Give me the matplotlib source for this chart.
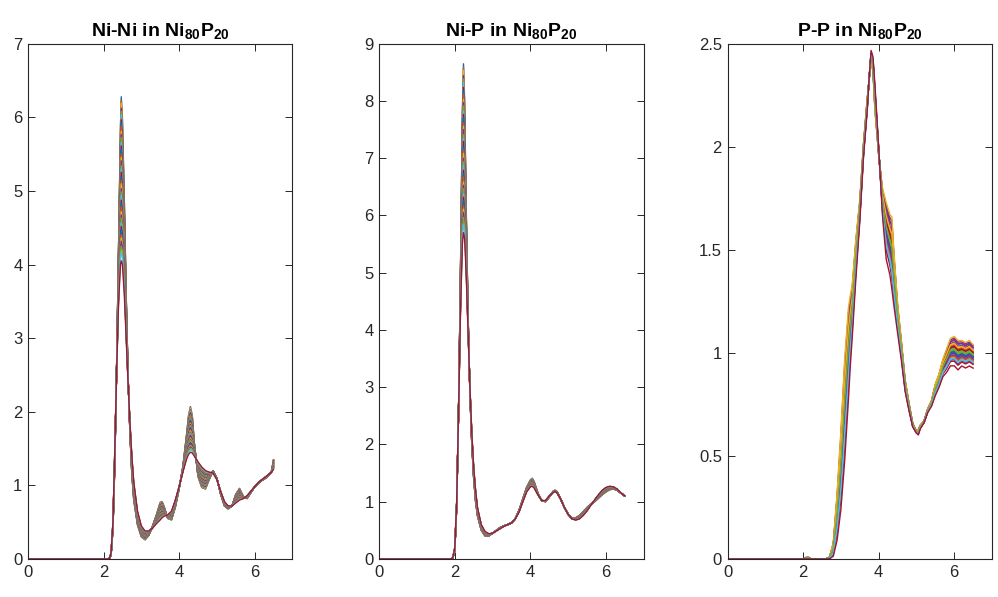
import matplotlib
matplotlib.use("Agg")
import matplotlib.pyplot as plt
import numpy as np

plt.rcParams['font.family'] = ['Liberation Sans', 'DejaVu Sans']
plt.rcParams['mathtext.fontset'] = 'custom'
plt.rcParams['mathtext.rm'] = 'Liberation Sans'
plt.rcParams['mathtext.bf'] = 'Liberation Sans:bold'

# MATLAB default colour order
colors = ['#0072BD', '#D95319', '#EDB120', '#7E2F8E', '#77AC30', '#4DBEEE', '#A2142F']

# ---- Ni-Ni: sharpest (cold) and broadest (hot) curves
r_nini = [0, 2.10, 2.15, 2.20, 2.25, 2.30, 2.35, 2.40, 2.45, 2.47, 2.50, 2.55, 2.60,
          2.65, 2.70, 2.75, 2.80, 2.90, 3.00, 3.10, 3.20, 3.30, 3.40, 3.50, 3.55,
          3.60, 3.70, 3.80, 3.90, 4.00, 4.10, 4.20, 4.25, 4.30, 4.35, 4.40, 4.50,
          4.60, 4.70, 4.80, 4.90, 5.00, 5.10, 5.20, 5.30, 5.40, 5.50, 5.60, 5.70,
          5.80, 5.90, 6.00, 6.10, 6.20, 6.30, 6.40, 6.45, 6.50]
g_nini_cold = [0, 0, 0, 0.05, 0.40, 1.30, 2.70, 4.30, 5.90, 6.28, 6.00, 4.90, 3.60,
               2.50, 1.70, 1.15, 0.80, 0.46, 0.30, 0.26, 0.32, 0.45, 0.60, 0.77, 0.78,
               0.72, 0.55, 0.53, 0.70, 0.95, 1.25, 1.70, 1.95, 2.07, 1.95, 1.60, 1.12,
               0.97, 0.95, 1.08, 1.20, 1.10, 0.88, 0.72, 0.68, 0.72, 0.88, 0.96, 0.85,
               0.82, 0.90, 0.98, 1.03, 1.07, 1.10, 1.15, 1.20, 1.35]
g_nini_hot = [0, 0, 0, 0.08, 0.50, 1.50, 2.60, 3.50, 4.00, 4.05, 4.00, 3.60, 3.00,
              2.40, 1.85, 1.40, 1.05, 0.65, 0.45, 0.38, 0.38, 0.42, 0.48, 0.53, 0.56,
              0.58, 0.60, 0.65, 0.80, 0.98, 1.18, 1.36, 1.42, 1.45, 1.44, 1.40, 1.32,
              1.25, 1.20, 1.18, 1.17, 1.08, 0.92, 0.78, 0.72, 0.72, 0.76, 0.80, 0.82,
              0.86, 0.92, 0.98, 1.04, 1.08, 1.12, 1.16, 1.18, 1.22]

# ---- Ni-P
r_nip = [0, 1.90, 1.95, 2.00, 2.05, 2.10, 2.15, 2.20, 2.23, 2.26, 2.30, 2.35, 2.40,
         2.45, 2.50, 2.55, 2.60, 2.70, 2.80, 2.90, 3.00, 3.10, 3.20, 3.30, 3.40,
         3.50, 3.60, 3.70, 3.80, 3.90, 4.00, 4.05, 4.10, 4.20, 4.30, 4.40, 4.50,
         4.60, 4.65, 4.70, 4.80, 4.90, 5.00, 5.10, 5.20, 5.30, 5.40, 5.50, 5.60,
         5.70, 5.80, 5.90, 6.00, 6.10, 6.20, 6.30, 6.40, 6.50]
g_nip_cold = [0, 0, 0.02, 0.15, 0.90, 2.60, 5.00, 7.80, 8.65, 8.00, 6.20, 4.30, 2.90,
              2.00, 1.40, 1.00, 0.75, 0.50, 0.40, 0.40, 0.45, 0.50, 0.55, 0.58, 0.60,
              0.63, 0.70, 0.85, 1.05, 1.25, 1.38, 1.41, 1.35, 1.15, 1.02, 1.00, 1.08,
              1.18, 1.20, 1.18, 1.05, 0.90, 0.78, 0.72, 0.72, 0.76, 0.83, 0.90, 0.96,
              1.00, 1.06, 1.12, 1.17, 1.21, 1.22, 1.20, 1.15, 1.10]
g_nip_hot = [0, 0, 0.03, 0.20, 1.00, 2.60, 4.30, 5.50, 5.70, 5.60, 5.00, 4.00, 3.00,
             2.20, 1.60, 1.20, 0.90, 0.60, 0.48, 0.44, 0.45, 0.49, 0.53, 0.57, 0.60,
             0.63, 0.70, 0.82, 1.00, 1.17, 1.26, 1.27, 1.24, 1.12, 1.02, 1.02, 1.10,
             1.16, 1.18, 1.16, 1.05, 0.90, 0.78, 0.70, 0.68, 0.70, 0.76, 0.84, 0.94,
             1.03, 1.12, 1.20, 1.25, 1.27, 1.26, 1.22, 1.15, 1.10]

# ---- P-P: two extreme (noisy) curves
r_pp = [0, 2.00, 2.05, 2.10, 2.15, 2.20, 2.30, 2.60, 2.70, 2.80, 2.90, 3.00, 3.10,
        3.20, 3.25, 3.30, 3.40, 3.50, 3.60, 3.70, 3.75, 3.80, 3.85, 3.90, 4.00,
        4.10, 4.20, 4.30, 4.35, 4.40, 4.50, 4.60, 4.70, 4.80, 4.90, 5.00, 5.05,
        5.10, 5.20, 5.30, 5.40, 5.50, 5.60, 5.70, 5.80, 5.90, 6.00, 6.10, 6.20,
        6.30, 6.40, 6.50]
g_pp_a = [0, 0, 0.005, 0.01, 0.008, 0, 0, 0, 0.01, 0.08, 0.32, 0.62, 0.97,
          1.22, 1.28, 1.33, 1.56, 1.74, 2.02, 2.24, 2.33, 2.42, 2.36, 2.18, 1.96,
          1.80, 1.73, 1.67, 1.66, 1.50, 1.24, 1.06, 0.87, 0.76, 0.66, 0.62, 0.63,
          0.65, 0.67, 0.73, 0.77, 0.85, 0.90, 0.97, 1.02, 1.07, 1.08, 1.06, 1.06,
          1.05, 1.06, 1.04]
g_pp_b = [0, 0, 0, 0, 0, 0, 0, 0, 0, 0.01, 0.08, 0.22, 0.45,
          0.75, 0.92, 1.06, 1.36, 1.63, 1.95, 2.18, 2.34, 2.47, 2.44, 2.31, 2.00,
          1.66, 1.44, 1.36, 1.29, 1.22, 1.09, 0.96, 0.81, 0.72, 0.64, 0.61, 0.60,
          0.63, 0.66, 0.71, 0.74, 0.79, 0.83, 0.88, 0.90, 0.93, 0.93, 0.91, 0.93,
          0.92, 0.93, 0.92]

# share of the cold curve in each of the 42 runs (read from the peak heights)
w_ni = [1.00, 0.98, 0.96, 0.93, 0.91, 0.89, 0.86, 0.84, 0.82, 0.79, 0.77, 0.75,
        0.72, 0.70, 0.68, 0.65, 0.63, 0.61, 0.58, 0.56, 0.54, 0.51, 0.49, 0.47,
        0.44, 0.42, 0.40, 0.37, 0.35, 0.33, 0.30, 0.28, 0.26, 0.23, 0.21, 0.19,
        0.16, 0.14, 0.12, 0.09, 0.05, 0.00]
# share of curve A in each P-P run
w_pp = [0.55, 0.40, 0.62, 0.95, 0.48, 0.30, 0.70, 0.52, 0.35, 0.66, 0.88, 0.45,
        0.58, 0.25, 0.60, 0.42, 0.75, 0.82, 0.50, 0.38, 0.65, 0.47, 0.56, 0.33,
        0.90, 0.62, 0.44, 0.20, 0.53, 0.72, 1.00, 0.40, 0.57, 0.28, 0.68, 0.50,
        0.36, 0.78, 0.46, 0.60, 0.30, 0.05]

panels = [
    ('Ni-Ni', r_nini, g_nini_cold, g_nini_hot, w_ni, 7, [0, 1, 2, 3, 4, 5, 6, 7], None),
    ('Ni-P', r_nip, g_nip_cold, g_nip_hot, w_ni, 9, list(range(10)), None),
    ('P-P', r_pp, g_pp_a, g_pp_b, w_pp, 2.5, [0, 0.5, 1, 1.5, 2, 2.5],
     ['0', '0.5', '1', '1.5', '2', '2.5']),
]

fig = plt.figure(figsize=(9.98, 5.97), dpi=100)
lefts = [0.028, 0.380, 0.729]
gray = '#262626'

for left, (name, r, ga, gb, w, ymax, yt, ytl) in zip(lefts, panels):
    ax = fig.add_axes([left, 0.0637, 0.265, 0.863])
    ga = np.array(ga)
    gb = np.array(gb)
    for i, wi in enumerate(w):
        ax.plot(r, wi * ga + (1 - wi) * gb, color=colors[i % 7], lw=1.0)
    ax.set_xlim(0, 7)
    ax.set_ylim(0, ymax)
    ax.set_xticks([0, 2, 4, 6])
    ax.set_yticks(yt)
    if ytl:
        ax.set_yticklabels(ytl)
    ax.tick_params(direction='in', length=5, width=0.7, top=True, right=True,
                   labelsize=12, colors=gray, pad=4)
    for s in ax.spines.values():
        s.set_color(gray)
        s.set_linewidth(0.8)
    ax.set_title(name + r' in Ni$_{\mathbf{80}}$P$_{\mathbf{20}}$',
                 fontsize=14, fontweight='bold', pad=5)

fig.savefig('out.png', dpi=100)
